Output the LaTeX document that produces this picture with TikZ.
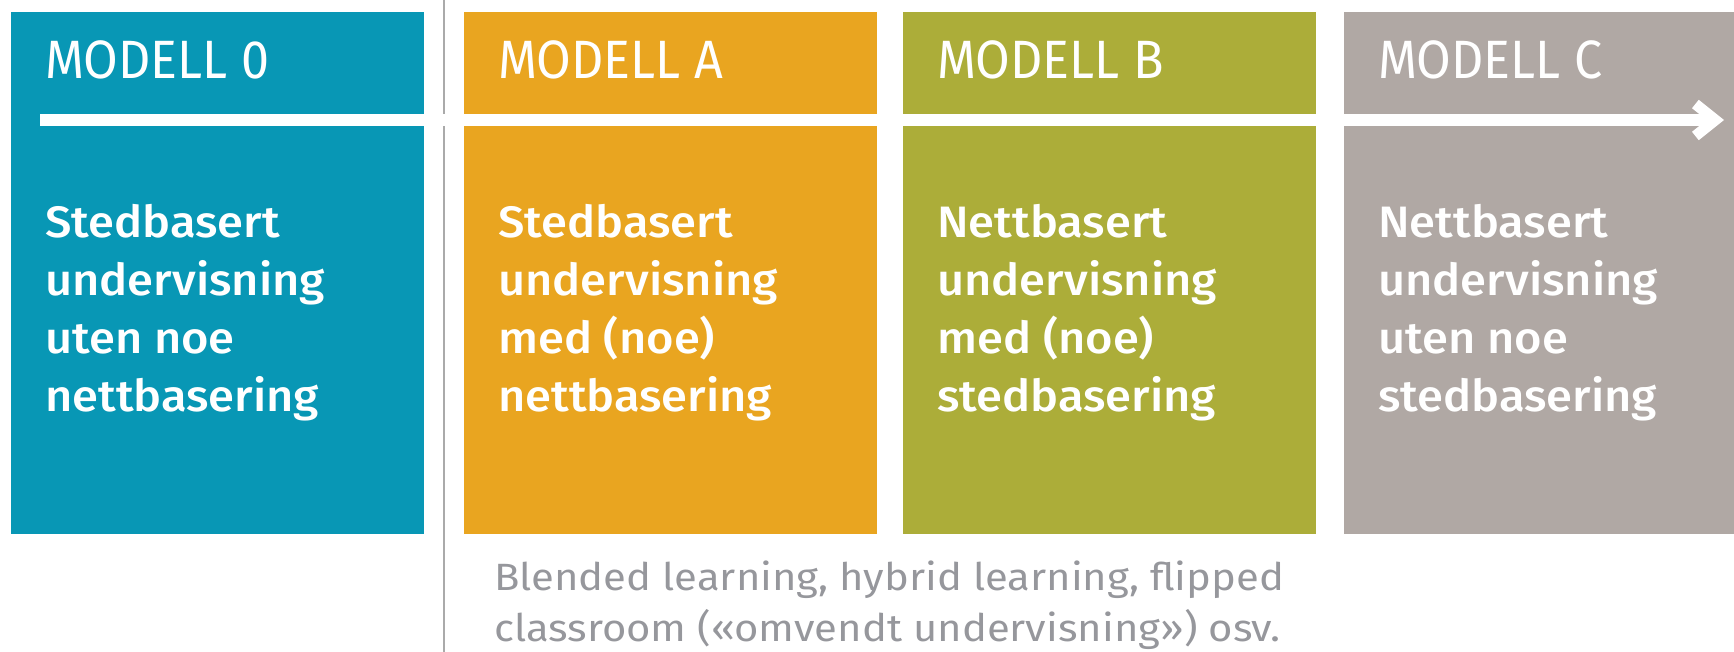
\documentclass[tikz,border=0pt]{standalone}
\usepackage{fontspec}
\setmainfont{Fira Sans}
\newfontfamily\titlefont[FakeStretch=0.93]{Fira Sans}
\newfontfamily\bodyfont[FakeStretch=1.07]{Fira Sans Medium}
\newfontfamily\notefont[FakeStretch=1.1]{Fira Sans}
\usetikzlibrary{arrows.meta, calc, positioning}

\definecolor{modellteal}{RGB}{8,151,181}
\definecolor{modellorange}{RGB}{233,165,32}
\definecolor{modellolive}{RGB}{172,173,57}
\definecolor{modelltaupe}{RGB}{176,168,164}
\definecolor{notegray}{RGB}{150,151,156}
\definecolor{dividergray}{RGB}{170,170,170}

\tikzset{
	modellbox/.style={anchor=north west, inner sep=0pt, minimum width=413pt, minimum height=522pt},
	modelltitle/.style={anchor=base west, inner sep=0pt, text=white, font=\titlefont\fontsize{54}{54}\selectfont},
	modelltext/.style={anchor=north west, inner sep=0pt, text=white, align=left, font=\bodyfont\fontsize{44}{58}\selectfont},
	notetext/.style={anchor=base west, inner sep=0pt, text=notegray, align=left, font=\notefont\fontsize{38}{51}\selectfont},
}

\begin{document}
\begin{tikzpicture}[x=1pt, y=-1pt]
		\useasboundingbox (0,0) rectangle (1734,652);
		% boxes
		\node[modellbox, fill=modellteal] (m0) at (11,12) {};
		\node[modellbox, fill=modellorange] (ma) at (464,12) {};
		\node[modellbox, fill=modellolive] (mb) at (903,12) {};
		\node[modellbox, fill=modelltaupe, minimum width=390pt] (mc) at (1344,12) {};
		% divider
		\coordinate (divtop) at (444,0);
		\coordinate (divbot) at (444,652);
		\draw[dividergray, line width=2pt] (divtop) -- (divbot);
		% titles
		\node[modelltitle] (t0) at ($(m0.north west)+(34,67)$) {MODELL 0};
		\node[modelltitle] (ta) at ($(ma.north west)+(34,67)$) {MODELL A};
		\node[modelltitle] (tb) at ($(mb.north west)+(34,67)$) {MODELL B};
		\node[modelltitle] (tc) at ($(mc.north west)+(34,67)$) {MODELL C};
		% arrow
		\coordinate (arrowstart) at (40,120);
		\coordinate (arrowend) at (1724,120);
		\draw[white, line width=12pt, -{Straight Barb[length=20pt, width=32pt, line width=0pt 0.9]}] (arrowstart) -- (arrowend);
		% texts
		\node[modelltext] (b0) at ($(m0.north west)+(34,192)$) {Stedbasert\\undervisning\\uten noe\\nettbasering};
		\node[modelltext] (ba) at ($(ma.north west)+(34,192)$) {Stedbasert\\undervisning\\med (noe)\\nettbasering};
		\node[modelltext] (bb) at ($(mb.north west)+(34,192)$) {Nettbasert\\undervisning\\med (noe)\\stedbasering};
		\node[modelltext] (bc) at ($(mc.north west)+(34,192)$) {Nettbasert\\undervisning\\uten noe\\stedbasering};
		% note
		\node[notetext] (note) at (494,641) {Blended learning, hybrid learning, flipped\\classroom («omvendt undervisning») osv.};
	\end{tikzpicture}
\end{document}
